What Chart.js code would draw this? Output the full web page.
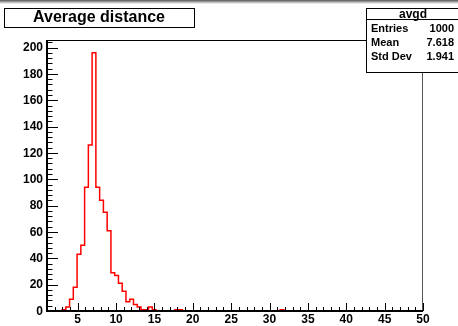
<!DOCTYPE html>
<html><head><meta charset="utf-8">
<script src="https://cdn.jsdelivr.net/npm/chart.js@4.4.1/dist/chart.umd.min.js"></script>
<style>html,body{margin:0;padding:0;background:#fff;overflow:hidden}canvas{display:block}</style>
</head><body><canvas id="c" width="458" height="326"></canvas>
<script>
const title = 'Average distance';
const histName = 'avgd';
const statsLabels = ['Entries', 'Mean', 'Std Dev'];
const statsValues = ['1000', '7.618', '1.941'];
const xMin = 1, xMax = 50, nBins = 100;
const yMin = 0, yMax = 205;
const counts = [
  0,0,0,0,1,3,9,18,43,50,
  94,126,196,94,84,75,61,29,27,21,
  15,7,9,5,3,1,1,3,1,0,
  0,0,0,0,1,1,0,0,0,0,
  0,0,0,0,0,0,0,0,0,0,
  0,0,0,0,0,0,0,0,0,0,
  0,0,1,0,0,0,0,0,0,0,
  0,0,0,0,0,0,0,0,0,0,
  0,0,0,0,0,0,0,0,0,0,
  0,0,0,0,0,0,0,0,0,0
];
const xTickValues = [5,10,15,20,25,30,35,40,45,50];
const xTickLabels = ['5','10','15','20','25','30','35','40','45','50'];
const yTickValues = [0,20,40,60,80,100,120,140,160,180,200];
const yTickLabels = ['0','20','40','60','80','100','120','140','160','180','200'];

const binWidth = (xMax - xMin) / nBins;
const points = counts.map((v, i) => ({x: xMin + i * binWidth, y: v}));
points.push({x: xMax, y: counts[nBins - 1]});

const FONT = '"Liberation Sans", Arial, Helvetica, sans-serif';

const rootPlugin = {
  id: 'rootStyle',
  beforeDraw(chart) {
    const ctx = chart.ctx;
    ctx.save();
    ctx.fillStyle = '#fff';
    ctx.fillRect(0, 0, chart.width, chart.height);
    const g = ctx.createLinearGradient(0, 0, 0, 4);
    g.addColorStop(0, '#555');
    g.addColorStop(1, '#fff');
    ctx.fillStyle = g;
    ctx.fillRect(0, 0, chart.width, 4);
    ctx.restore();
  },
  afterDatasetsDraw(chart) {
    const ctx = chart.ctx;
    const xs = chart.scales.x, ys = chart.scales.y;
    const a = chart.chartArea;
    ctx.save();
    // frame top/right
    ctx.lineWidth = 1;
    ctx.strokeStyle = '#000';
    ctx.beginPath();
    ctx.moveTo(a.left, a.top - 0.5);
    ctx.lineTo(a.right - 0.5, a.top - 0.5);
    ctx.stroke();
    ctx.strokeStyle = '#555';
    ctx.beginPath();
    ctx.moveTo(a.right - 0.5, a.top - 0.5);
    ctx.lineTo(a.right - 0.5, a.bottom);
    ctx.stroke();
    // axes
    ctx.strokeStyle = '#000';
    ctx.lineWidth = 2;
    ctx.beginPath();
    ctx.moveTo(a.left, a.top - 1);
    ctx.lineTo(a.left, a.bottom);
    ctx.lineTo(a.right, a.bottom);
    ctx.stroke();
    // x ticks
    ctx.lineWidth = 1;
    ctx.beginPath();
    for (let v = Math.ceil(xMin); v <= xMax; v += 1) {
      const px = Math.round(xs.getPixelForValue(v)) + 0.5;
      const len = (v % 5 === 0) ? 8 : 4;
      ctx.moveTo(px, a.bottom);
      ctx.lineTo(px, a.bottom - len);
    }
    // y ticks
    for (let v = yMin; v <= yMax; v += 4) {
      const py = Math.round(ys.getPixelForValue(v)) + 0.5;
      const len = (v % 20 === 0) ? 11 : 5.5;
      ctx.moveTo(a.left, py);
      ctx.lineTo(a.left + len, py);
    }
    ctx.stroke();
    // tick labels
    ctx.fillStyle = '#000';
    ctx.font = 'bold 12px ' + FONT;
    ctx.textAlign = 'center';
    ctx.textBaseline = 'middle';
    xTickValues.forEach((v, i) => {
      ctx.fillText(xTickLabels[i], xs.getPixelForValue(v), 319.5);
    });
    ctx.textAlign = 'right';
    yTickValues.forEach((v, i) => {
      ctx.fillText(yTickLabels[i], a.left - 4, ys.getPixelForValue(v) + 0.5);
    });
    // title box
    ctx.fillStyle = '#fff';
    ctx.fillRect(4.5, 8.5, 190, 19);
    ctx.strokeStyle = '#000';
    ctx.lineWidth = 1;
    ctx.strokeRect(4.5, 8.5, 190, 19);
    ctx.fillStyle = '#000';
    ctx.font = 'bold 16px ' + FONT;
    ctx.textAlign = 'center';
    ctx.textBaseline = 'alphabetic';
    ctx.fillText(title, 99, 21.5);
    // stats box
    ctx.fillStyle = '#fff';
    ctx.fillRect(366.5, 8.5, 100, 64);
    ctx.strokeRect(366.5, 8.5, 100, 64);
    ctx.beginPath();
    ctx.moveTo(366.5, 19.5);
    ctx.lineTo(chart.width, 19.5);
    ctx.stroke();
    ctx.fillStyle = '#000';
    ctx.font = 'bold 12px ' + FONT;
    ctx.textAlign = 'center';
    ctx.textBaseline = 'middle';
    ctx.fillText(histName, 413, 14.5);
    ctx.font = 'bold 11px ' + FONT;
    statsLabels.forEach((lab, i) => {
      const y = 28.5 + i * 14;
      ctx.textAlign = 'left';
      ctx.fillText(lab, 371, y);
      ctx.textAlign = 'right';
      ctx.fillText(statsValues[i], 454, y);
    });
    ctx.restore();
  }
};

new Chart(document.getElementById('c'), {
  type: 'line',
  data: {
    datasets: [{
      label: histName,
      data: points,
      stepped: 'before',
      borderColor: '#ff0000',
      borderWidth: 1.5,
      pointRadius: 0,
      fill: false,
      tension: 0
    }]
  },
  options: {
    responsive: false,
    animation: false,
    devicePixelRatio: 1,
    layout: {padding: {left: 47, right: 35, top: 41, bottom: 15}},
    plugins: {legend: {display: false}, title: {display: false}, tooltip: {enabled: false}},
    scales: {
      x: {type: 'linear', min: xMin, max: xMax, display: false},
      y: {type: 'linear', min: yMin, max: yMax, display: false}
    }
  },
  plugins: [rootPlugin]
});
</script>
</body></html>
